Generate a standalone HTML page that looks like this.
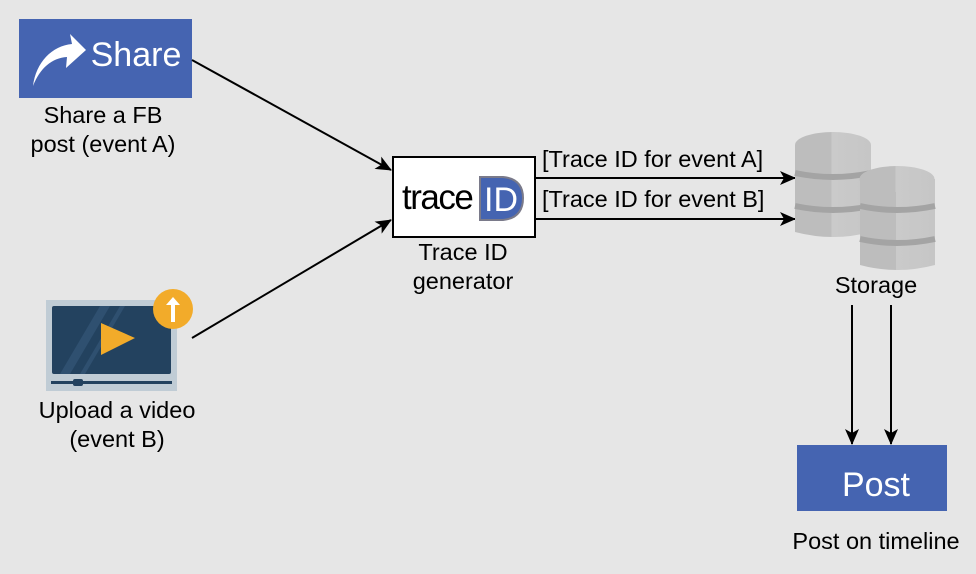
<!DOCTYPE html>
<html><head><style>body{margin:0;background:#e6e6e6}svg{display:block}text{font-family:"Liberation Sans",Arial,sans-serif}</style></head><body>
<svg width="976" height="574" viewBox="0 0 976 574">
<defs><marker id="a" markerWidth="16" markerHeight="14" refX="15" refY="7" orient="auto" markerUnits="userSpaceOnUse"><path d="M0,0 L16,7 L0,14 L4,7z" fill="#000"/></marker>
<linearGradient id="g" x1="0" x2="1"><stop offset="0" stop-color="#bdbdbd"/><stop offset="0.48" stop-color="#bdbdbd"/><stop offset="0.48" stop-color="#cacaca"/><stop offset="1" stop-color="#c6c6c6"/></linearGradient></defs>
<rect x="19" y="19" width="173" height="79" fill="#4564b1"/>
<path d="M33,86 C36,62 52,46 72,44 L70,34 L86,50 L66,68 L67,57 C52,58 40,68 33,86z" fill="#fff"/>
<text x="136" y="66" font-size="34" fill="#fff" text-anchor="middle">Share</text>
<text x="103" y="123" font-size="23.5" text-anchor="middle">Share a FB</text>
<text x="103" y="152" font-size="23.5" text-anchor="middle">post (event A)</text>
<line x1="192" y1="60" x2="391" y2="170" stroke="#000" stroke-width="2" marker-end="url(#a)"/>
<line x1="192" y1="338" x2="391" y2="220" stroke="#000" stroke-width="2" marker-end="url(#a)"/>
<rect x="393" y="157" width="142" height="80" fill="#fff" stroke="#000" stroke-width="2"/>
<text x="402" y="209" font-size="35" fill="#000" letter-spacing="-1.5">trace</text>
<path d="M480,177 L503,177 Q523,179 523,198 Q523,218 503,220 L480,220z" fill="#4564b1" stroke="#7a7a8a" stroke-width="2"/>
<text x="484" y="211" font-size="34" fill="#fff">ID</text>
<text x="463" y="260" font-size="23.5" text-anchor="middle">Trace ID</text>
<text x="463" y="289" font-size="23.5" text-anchor="middle">generator</text>
<line x1="535" y1="178" x2="795" y2="178" stroke="#000" stroke-width="2" marker-end="url(#a)"/>
<line x1="535" y1="219" x2="795" y2="219" stroke="#000" stroke-width="2" marker-end="url(#a)"/>
<text x="542" y="167" font-size="23.5">[Trace ID for event A]</text>
<text x="542" y="207" font-size="23.5">[Trace ID for event B]</text>
<g>
<path d="M795,145 L871,145 L871,232 Q833,242 795,232z" fill="url(#g)"/>
<path d="M795,173 Q833,181 871,173 M795,206 Q833,214 871,206" stroke="#a4a4a4" stroke-width="6" fill="none"/>
<ellipse cx="833" cy="145" rx="38" ry="13" fill="url(#g)"/>
</g>
<g>
<path d="M860,179 L935,179 L935,265 Q897,275 860,265z" fill="url(#g)"/>
<path d="M860,206 Q897,214 935,206 M860,239 Q897,247 935,239" stroke="#a4a4a4" stroke-width="6" fill="none"/>
<ellipse cx="897" cy="179" rx="37.5" ry="13" fill="url(#g)"/>
</g>
<text x="876" y="293" font-size="23.5" text-anchor="middle">Storage</text>
<line x1="852" y1="305" x2="852" y2="444" stroke="#000" stroke-width="2" marker-end="url(#a)"/>
<line x1="891" y1="305" x2="891" y2="444" stroke="#000" stroke-width="2" marker-end="url(#a)"/>
<rect x="797" y="445" width="150" height="66" fill="#4564b1"/>
<text x="876" y="496" font-size="34" fill="#fff" text-anchor="middle">Post</text>
<text x="876" y="549" font-size="23.5" text-anchor="middle">Post on timeline</text>
<rect x="46" y="300" width="131" height="91" fill="#c0ccd5"/>
<rect x="52" y="306" width="119" height="68" rx="2" fill="#23425f"/>
<path d="M60,374 L100,306 L110,306 L70,374z M80,374 L120,306 L125,306 L85,374z" fill="#2f5070"/>
<path d="M101,323 L135,338 L101,355z" fill="#f2ab2a"/>
<rect x="51" y="381" width="121" height="3" fill="#23425f"/>
<rect x="73" y="379" width="10" height="7" rx="2" fill="#23425f"/>
<circle cx="173" cy="309" r="20" fill="#f2ab2a"/>
<path d="M173,297 L180,305 L175,305 L175,322 L171,322 L171,305 L166,305z" fill="#fff"/>
<text x="117" y="418" font-size="23.5" text-anchor="middle">Upload a video</text>
<text x="117" y="447" font-size="23.5" text-anchor="middle">(event B)</text>
</svg>
</body></html>
